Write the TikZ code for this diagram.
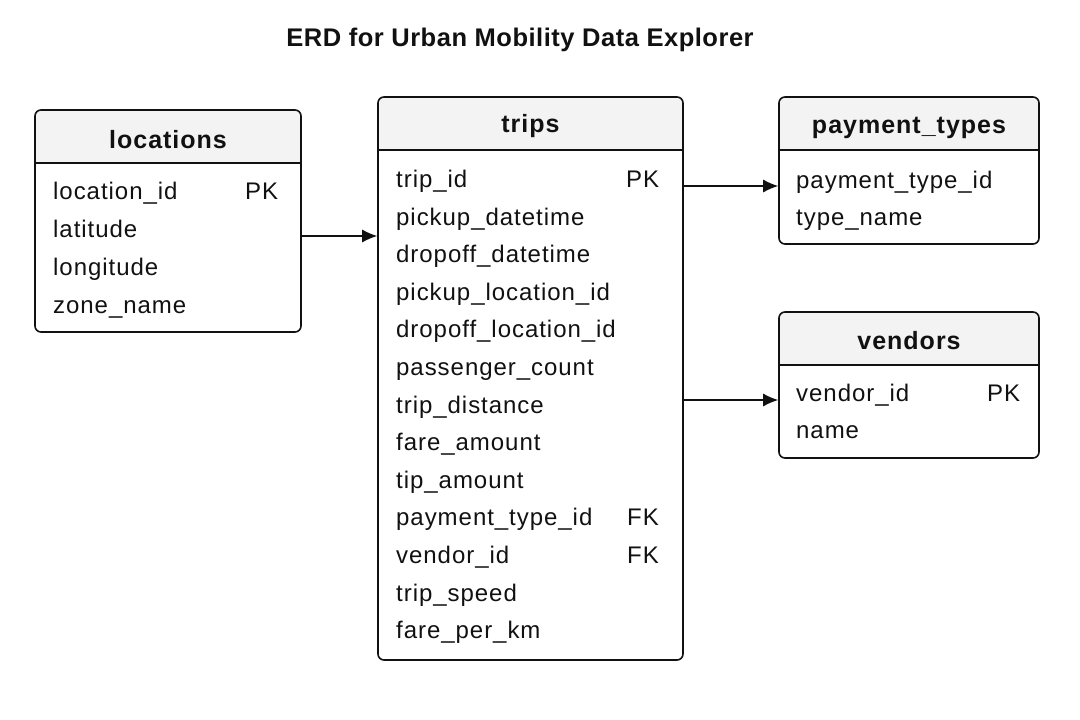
\documentclass[tikz,border=0pt]{standalone}
\usepackage{fontspec}
\setmainfont{Liberation Sans}[LetterSpace=4]
\usetikzlibrary{arrows.meta}
\definecolor{hdrgray}{HTML}{F3F3F3}
\definecolor{ink}{HTML}{111111}
\tikzset{
  tbl/.style={draw=ink, line width=1.6pt, rounded corners=6pt, inner sep=0pt},
  divider/.style={draw=ink, line width=1.4pt},
  hdrtext/.style={font=\fontsize{25}{28}\selectfont\bfseries, text=ink, inner sep=0pt},
  row/.style={anchor=mid west, font=\fontsize{24}{28}\selectfont, text=ink, inner sep=0pt},
  keytag/.style={row},
  titletext/.style={font=\fontsize{25.5}{28}\selectfont\bfseries\addfontfeature{LetterSpace=2}, text=ink, inner sep=0pt},
  conn/.style={draw=ink, line width=1.2pt, -{Latex[length=15pt,width=13pt]}}
}
\begin{document}
\begin{tikzpicture}[x=1pt,y=-1pt]
\useasboundingbox[fill=white] (0,0) rectangle (1080,720);

\node[titletext] (title) at (520,40) {ERD for Urban Mobility Data Explorer};

% header fills
\begin{scope}
  \clip[rounded corners=6pt] (35,110) rectangle (301,332);
  \fill[hdrgray] (35,110) rectangle (301,163);
\end{scope}
\begin{scope}
  \clip[rounded corners=6pt] (378,97) rectangle (683,660);
  \fill[hdrgray] (378,97) rectangle (683,150);
\end{scope}
\begin{scope}
  \clip[rounded corners=6pt] (779,97) rectangle (1039,244);
  \fill[hdrgray] (779,97) rectangle (1039,150);
\end{scope}
\begin{scope}
  \clip[rounded corners=6pt] (779,312) rectangle (1039,458);
  \fill[hdrgray] (779,312) rectangle (1039,365);
\end{scope}

% tables
\node[tbl, minimum width=266pt, minimum height=222pt] (loc) at (168,221) {};
\node[tbl, minimum width=305pt, minimum height=563pt] (trips) at (530.5,378.5) {};
\node[tbl, minimum width=260pt, minimum height=147pt] (pay) at (909,170.5) {};
\node[tbl, minimum width=260pt, minimum height=146pt] (ven) at (909,385) {};

% dividers
\draw[divider] (loc.west |- 0,163) -- (loc.east |- 0,163);
\draw[divider] (trips.west |- 0,150) -- (trips.east |- 0,150);
\draw[divider] (pay.west |- 0,150) -- (pay.east |- 0,150);
\draw[divider] (ven.west |- 0,365) -- (ven.east |- 0,365);

% headers
\node[hdrtext] (locH) at (168,139.5) {locations};
\node[hdrtext] (tripsH) at (530.5,126.5) {trips};
\node[hdrtext] (payH) at (909,127.5) {payment\_types};
\node[hdrtext] (venH) at (909,340.5) {vendors};

% locations rows
\node[row] (l1) at (53,197) {location\_id};
\node[keytag] (l1k) at (245,197) {PK};
\node[row] (l2) at (53,235) {latitude};
\node[row] (l3) at (53,273) {longitude};
\node[row] (l4) at (53,311) {zone\_name};

% trips rows
\node[row] (t1) at (396,185) {trip\_id};
\node[keytag] (t1k) at (626,185) {PK};
\node[row] (t2) at (396,223) {pickup\_datetime};
\node[row] (t3) at (396,260) {dropoff\_datetime};
\node[row] (t4) at (396,298) {pickup\_location\_id};
\node[row] (t5) at (396,335) {dropoff\_location\_id};
\node[row] (t6) at (396,373) {passenger\_count};
\node[row] (t7) at (396,411) {trip\_distance};
\node[row] (t8) at (396,448) {fare\_amount};
\node[row] (t9) at (396,486) {tip\_amount};
\node[row] (t10) at (396,523) {payment\_type\_id};
\node[keytag] (t10k) at (627,523) {FK};
\node[row] (t11) at (396,561) {vendor\_id};
\node[keytag] (t11k) at (627,561) {FK};
\node[row] (t12) at (396,599) {trip\_speed};
\node[row] (t13) at (396,636) {fare\_per\_km};

% payment_types rows
\node[row] (p1) at (796,186) {payment\_type\_id};
\node[row] (p2) at (796,223) {type\_name};

% vendors rows
\node[row] (v1) at (796,399) {vendor\_id};
\node[keytag] (v1k) at (987,399) {PK};
\node[row] (v2) at (796,436) {name};

% connectors
\draw[conn] (loc.east |- 0,236) -- (trips.west |- 0,236);
\draw[conn] (trips.east |- 0,186) -- (pay.west |- 0,186);
\draw[conn] (trips.east |- 0,400) -- (ven.west |- 0,400);
\end{tikzpicture}
\end{document}
